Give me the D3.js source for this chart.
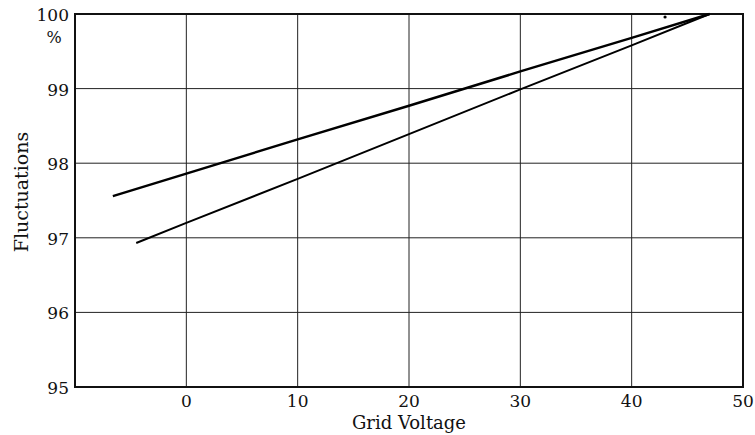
<!DOCTYPE html>
<html lang="en">
<head>
<meta charset="utf-8">
<title>Grid Voltage</title>
<script src="https://d3js.org/d3.v7.min.js"></script>
<style>
  body { margin: 0; background: #ffffff; }
  text { font-family: "DejaVu Serif", "Liberation Serif", serif; fill: #111; }
</style>
</head>
<body>
<div id="chart"></div>
<script>
// data
var xTicks = [0, 10, 20, 30, 40, 50];
var yTicks = [95, 96, 97, 98, 99, 100];
var upperX = [-6.6, 0, 10, 20, 30, 40, 47];
var upperY = [97.56, 97.86, 98.32, 98.77, 99.23, 99.68, 100];
var lowerX = [-4.5, 0, 10, 20, 30, 40, 47];
var lowerY = [96.93, 97.2, 97.79, 98.39, 98.99, 99.58, 100];
var strayDot = [43, 99.96];

var w = 755, h = 435;
var margin = {left: 75, right: 12, top: 14, bottom: 48};

var svg = d3.select("#chart").append("svg")
  .attr("width", w).attr("height", h);

var x = d3.scaleLinear().domain([-10, 50]).range([margin.left, w - margin.right]);
var y = d3.scaleLinear().domain([95, 100]).range([h - margin.bottom, margin.top]);

// grid
svg.selectAll("line.vgrid")
  .data(xTicks.filter(function(d) { return d < 50; }))
  .enter().append("line")
  .attr("x1", function(d) { return x(d); })
  .attr("x2", function(d) { return x(d); })
  .attr("y1", y(95)).attr("y2", y(100))
  .attr("stroke", "#222").attr("stroke-width", 1);

svg.selectAll("line.hgrid")
  .data(yTicks.filter(function(d) { return d > 95 && d < 100; }))
  .enter().append("line")
  .attr("x1", x(-10)).attr("x2", x(50))
  .attr("y1", function(d) { return y(d); })
  .attr("y2", function(d) { return y(d); })
  .attr("stroke", "#222").attr("stroke-width", 1);

// frame
svg.append("rect")
  .attr("x", x(-10)).attr("y", y(100))
  .attr("width", x(50) - x(-10)).attr("height", y(95) - y(100))
  .attr("fill", "none").attr("stroke", "#111").attr("stroke-width", 2);

// tick labels
svg.selectAll("text.xt")
  .data(xTicks)
  .enter().append("text")
  .attr("x", function(d) { return x(d); })
  .attr("y", y(95) + 20)
  .attr("text-anchor", "middle")
  .attr("font-size", 17)
  .text(function(d) { return d; });

svg.selectAll("text.yt")
  .data(yTicks)
  .enter().append("text")
  .attr("x", margin.left - 6)
  .attr("y", function(d) { return y(d) + 7; })
  .attr("text-anchor", "end")
  .attr("font-size", 17)
  .text(function(d) { return d; });

svg.append("text")
  .attr("x", margin.left - 21).attr("y", y(100) + 29)
  .attr("text-anchor", "middle")
  .attr("font-size", 16)
  .text("%");

// axis titles
svg.append("text")
  .attr("x", x(20)).attr("y", h - 6)
  .attr("text-anchor", "middle")
  .attr("font-size", 18)
  .text("Grid Voltage");

svg.append("text")
  .attr("transform", "translate(28,192) rotate(-90)")
  .attr("text-anchor", "middle")
  .attr("font-size", 19)
  .text("Fluctuations");

// curves
var line = d3.line()
  .x(function(d) { return x(d[0]); })
  .y(function(d) { return y(d[1]); });

svg.append("path")
  .datum(d3.zip(upperX, upperY))
  .attr("d", line)
  .attr("fill", "none").attr("stroke", "#000").attr("stroke-width", 2.4);

svg.append("path")
  .datum(d3.zip(lowerX, lowerY))
  .attr("d", line)
  .attr("fill", "none").attr("stroke", "#000").attr("stroke-width", 2);

svg.append("circle")
  .attr("cx", x(strayDot[0])).attr("cy", y(strayDot[1]))
  .attr("r", 1.6).attr("fill", "#000");
</script>
</body>
</html>
